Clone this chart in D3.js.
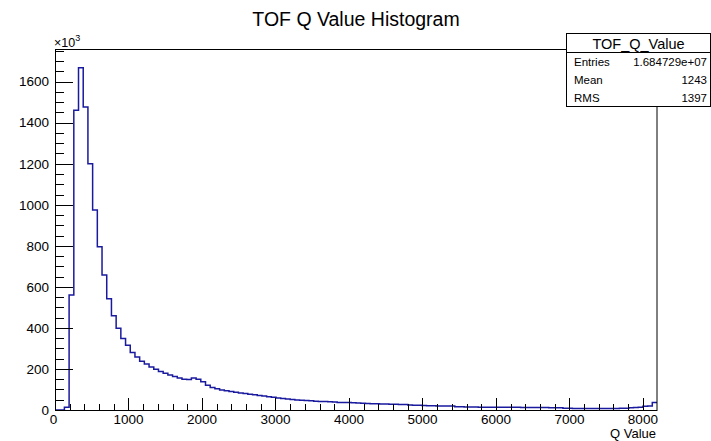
<!DOCTYPE html>
<html><head><meta charset="utf-8">
<script src="https://cdn.jsdelivr.net/npm/d3@7"></script>
<style>
html,body{margin:0;padding:0;background:#fff;}
text{font-family:"Liberation Sans",Arial,Helvetica,sans-serif;}
</style></head>
<body>
<svg id="c" width="711" height="441"></svg>
<script>
// ---- data ----
const title = "TOF Q Value Histogram";
const xTitle = "Q Value";
const histName = "TOF_Q_Value";
const statsLabels = ["Entries", "Mean", "RMS"];
const statsValues = ["1.684729e+07", "1243", "1397"];
const xMin = 0, xMax = 8192, nBins = 128;
// bin contents in units of 10^3 entries
const counts = [
  0, 0, 13, 560, 1460, 1668, 1476, 1200, 974, 795,
  658, 542, 459, 398, 349, 315, 280, 258, 238, 224,
  210, 198, 187, 179, 170, 163, 156, 150, 149, 156,
  150, 138, 120, 110, 103, 98, 94, 90, 86, 83,
  80, 77, 74, 71, 68, 65, 62, 59, 56, 53,
  51, 49, 47, 46, 45, 43, 42, 41, 40, 39,
  37, 36, 36, 35, 34, 33, 32, 31, 30, 29,
  29, 28, 28, 27, 27, 24, 23, 23, 22, 21,
  21, 20, 20, 19, 19, 16, 16, 15, 15, 15,
  14, 14, 14, 14, 13, 13, 13, 13, 13, 12,
  12, 12, 12, 12, 12, 11, 11, 11, 8, 8,
  7, 7, 7, 7, 7, 7, 7, 7, 7, 7,
  8, 8, 11, 12, 13, 18, 20, 36
];
const yMax = 1759;
const xTickValues = [0, 1000, 2000, 3000, 4000, 5000, 6000, 7000, 8000];
const yTickValues = [0, 200, 400, 600, 800, 1000, 1200, 1400, 1600];

// ---- layout ----
const L = 55, R = 657, T = 49, B = 410;
const svg = d3.select("#c");
const x = d3.scaleLinear().domain([xMin, xMax]).range([L, R]);
const y = d3.scaleLinear().domain([0, yMax]).range([B, T]);
const bw = (xMax - xMin) / nBins;

// histogram step line
const pts = [[x(xMin), y(0)]];
counts.forEach((v, i) => {
  pts.push([x(xMin + i * bw), y(v)]);
  pts.push([x(xMin + (i + 1) * bw), y(v)]);
});
svg.append("path")
  .attr("d", d3.line()(pts))
  .attr("fill", "none")
  .attr("stroke", "#1a1a9e")
  .attr("stroke-width", 1.5);

// frame
svg.append("rect")
  .attr("x", L + 0.5).attr("y", T + 0.5)
  .attr("width", R - L - 0.5).attr("height", B - T)
  .attr("fill", "none").attr("stroke", "#000").attr("stroke-width", 1);

// x axis ticks (inside, upward)
const xMinor = d3.range(0, xMax + 1, 200).filter(v => v % 1000 !== 0);
const gx = svg.append("g");
gx.selectAll("line.maj").data(xTickValues).join("line")
  .attr("x1", d => Math.round(x(d)) + 0.5).attr("x2", d => Math.round(x(d)) + 0.5)
  .attr("y1", B).attr("y2", B - 12).attr("stroke", "#000");
gx.selectAll("line.min").data(xMinor).join("line")
  .attr("x1", d => Math.round(x(d)) + 0.5).attr("x2", d => Math.round(x(d)) + 0.5)
  .attr("y1", B).attr("y2", B - 6).attr("stroke", "#000");
gx.selectAll("text").data(xTickValues).join("text")
  .attr("x", d => x(d) - (d === 0 ? 1.5 : 0)).attr("y", B + 13.5)
  .attr("text-anchor", "middle").attr("font-size", 13.5)
  .attr("fill", "#000").text(d => d);

// y axis ticks (inside, rightward)
const yMinor = d3.range(0, yMax, 50).filter(v => v % 200 !== 0);
const gy = svg.append("g");
gy.selectAll("line.maj").data(yTickValues).join("line")
  .attr("x1", L).attr("x2", L + 18)
  .attr("y1", d => Math.round(y(d)) + 0.5).attr("y2", d => Math.round(y(d)) + 0.5)
  .attr("stroke", "#000");
gy.selectAll("line.min").data(yMinor).join("line")
  .attr("x1", L).attr("x2", L + 9)
  .attr("y1", d => Math.round(y(d)) + 0.5).attr("y2", d => Math.round(y(d)) + 0.5)
  .attr("stroke", "#000");
gy.selectAll("text").data(yTickValues).join("text")
  .attr("x", L - 6).attr("y", d => y(d) + 4.8)
  .attr("text-anchor", "end").attr("font-size", 13.5)
  .attr("fill", "#000").text(d => d);

// exponent label
const ex = svg.append("text").attr("x", L - 1).attr("y", 47).attr("font-size", 12.5).attr("fill", "#000");
ex.append("tspan").text("\u00d710");
ex.append("tspan").attr("dy", -6).attr("font-size", 9).text("3");

// title
svg.append("text").attr("x", 356).attr("y", 26)
  .attr("text-anchor", "middle").attr("font-size", 19.5).attr("fill", "#000").text(title);

// x title
svg.append("text").attr("x", R - 1).attr("y", 437.5)
  .attr("text-anchor", "end").attr("font-size", 13).attr("fill", "#000").text(xTitle);

// stats box
const sx0 = 566.5, sx1 = 710.5, sy0 = 33.5, sy1 = 106.5, sTitleB = 52.5;
const sb = svg.append("g");
sb.append("rect").attr("x", sx0).attr("y", sy0).attr("width", sx1 - sx0).attr("height", sy1 - sy0)
  .attr("fill", "#fff").attr("stroke", "#000").attr("stroke-width", 1);
sb.append("line").attr("x1", sx0).attr("x2", sx1).attr("y1", sTitleB).attr("y2", sTitleB).attr("stroke", "#000");
sb.append("text").attr("x", (sx0 + sx1) / 2).attr("y", 48.5).attr("text-anchor", "middle")
  .attr("font-size", 14.5).attr("fill", "#000").text(histName);
const rowH = (sy1 - sTitleB) / statsLabels.length;
statsLabels.forEach((lab, i) => {
  const yy = sTitleB + rowH * (i + 1) - 5;
  sb.append("text").attr("x", 574).attr("y", yy).attr("font-size", 11.5).attr("fill", "#000").text(lab);
  sb.append("text").attr("x", 707).attr("y", yy).attr("text-anchor", "end").attr("font-size", 11.5).attr("fill", "#000").text(statsValues[i]);
});
</script>
</body></html>
